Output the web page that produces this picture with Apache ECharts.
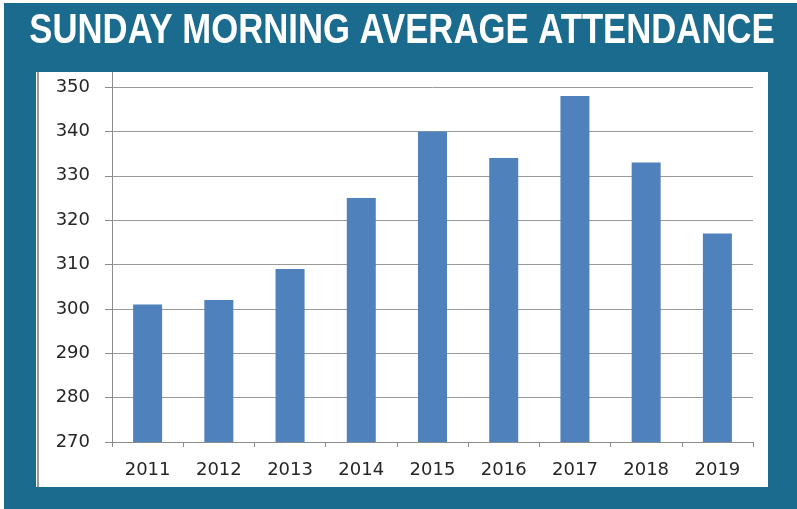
<!DOCTYPE html>
<html>
<head>
<meta charset="utf-8">
<script src="https://cdn.jsdelivr.net/npm/echarts@6/dist/echarts.min.js"></script>
<style>
  html, body { margin: 0; padding: 0; background: #fff; }
  #chart { width: 797px; height: 509px; }
</style>
</head>
<body>
<div id="chart"></div>
<script>
const years = ["2011", "2012", "2013", "2014", "2015", "2016", "2017", "2018", "2019"];
const attendance = [301, 302, 309, 325, 340, 334, 348, 333, 317];

const chart = echarts.init(document.getElementById("chart"));

const axisGray = "#8c8c8c";
const labelFont = { color: "#262626", fontFamily: "DejaVu Sans", fontSize: 18 };

chart.setOption({
  animation: false,
  graphic: [
    // teal frame
    { type: "rect", z: -10, shape: { x: 4, y: 3, width: 793, height: 506 }, style: { fill: "#1a6b8e" } },
    // white chart panel
    { type: "rect", z: -9, shape: { x: 36, y: 72, width: 732, height: 415 }, style: { fill: "#ffffff" } },
    { type: "line", z: -8, shape: { x1: 38, y1: 72, x2: 38, y2: 487 }, style: { stroke: "#9a9a9a", lineWidth: 2 } },
    { type: "line", z: -8, shape: { x1: 112.5, y1: 72, x2: 112.5, y2: 87 }, style: { stroke: axisGray, lineWidth: 1 } },
    {
      // narrow bold title: squeeze Liberation Sans horizontally
      type: "text",
      x: 402,
      y: 31,
      scaleX: 0.826,
      style: {
        text: "SUNDAY MORNING AVERAGE ATTENDANCE",
        x: 0,
        y: 0,
        align: "center",
        verticalAlign: "middle",
        fill: "#ffffff",
        font: "bold 42px 'Liberation Sans', Arial, sans-serif"
      }
    }
  ],
  grid: { left: 112, right: 44, top: 87, bottom: 67 },
  xAxis: {
    type: "category",
    data: years,
    axisLine: { lineStyle: { color: axisGray } },
    axisTick: { show: true, length: 5, lineStyle: { color: axisGray } },
    axisLabel: Object.assign({ margin: 19 }, labelFont)
  },
  yAxis: {
    type: "value",
    min: 270,
    max: 350,
    interval: 10,
    axisLine: { show: true, lineStyle: { color: axisGray } },
    axisTick: { show: true, length: 7, lineStyle: { color: axisGray } },
    axisLabel: Object.assign({ margin: 22 }, labelFont),
    splitLine: { lineStyle: { color: "#9a9a9a", width: 1 } }
  },
  series: [
    {
      type: "bar",
      data: attendance,
      barWidth: 29,
      itemStyle: { color: "#4f81bd" }
    }
  ]
});
</script>
</body>
</html>
